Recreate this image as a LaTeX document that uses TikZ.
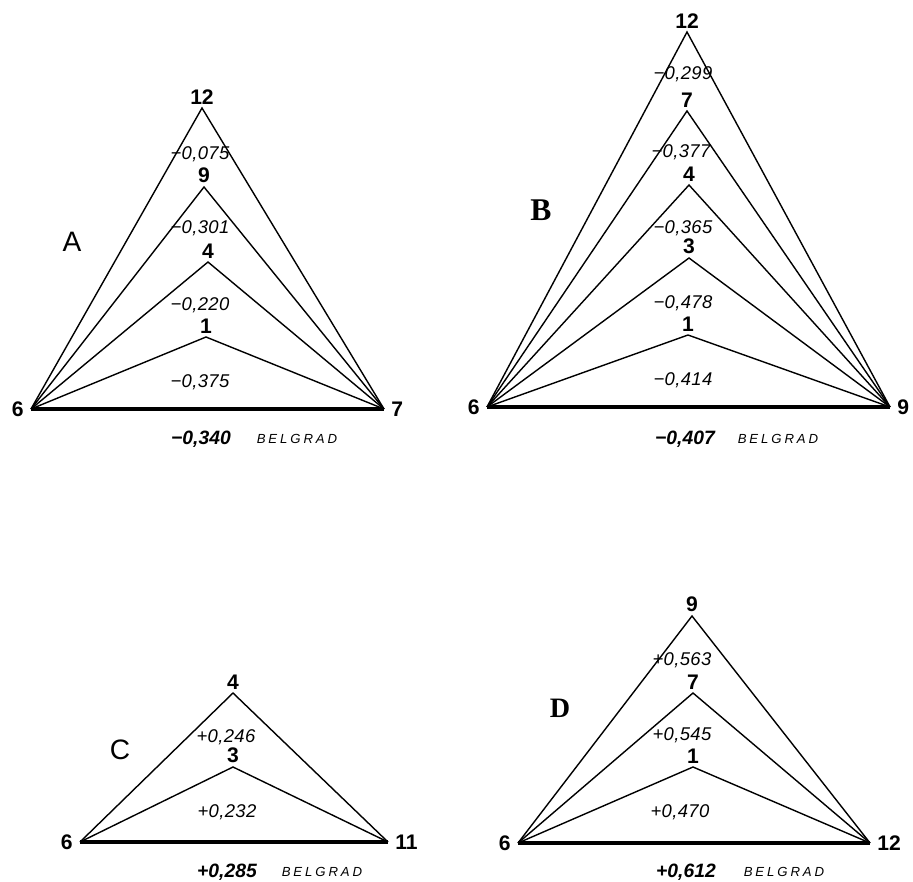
\documentclass[tikz,border=0pt]{standalone}
\usepackage{fontspec}
\setmainfont{Liberation Sans}
\newfontfamily\letterserif{Liberation Serif}
\usetikzlibrary{positioning}
\tikzset{edge/.style = {line width=0.8pt, line join=miter}}
\tikzset{base/.style = {line width=1.8pt}}
\tikzset{vnum/.style = {font=\fontsize{12}{12}\selectfont\bfseries, inner sep=2pt}}
\tikzset{side/.style = {vnum, inner sep=4pt}}
\tikzset{val/.style = {font=\fontsize{10.5}{10.5}\selectfont\itshape\addfontfeatures{LetterSpace=2}}}
\tikzset{total/.style = {font=\fontsize{11}{11}\selectfont\bfseries\itshape}}
\tikzset{city/.style = {font=\fontsize{7.5}{7.5}\selectfont\itshape\addfontfeatures{LetterSpace=22}}}
\tikzset{panel/.style = {font=\fontsize{16}{16}\selectfont}}
\tikzset{serifpanel/.style = {font=\fontsize{18}{18}\selectfont\letterserif\bfseries}}

\begin{document}
\begin{tikzpicture}[x=0.02cm, y=-0.02cm]
    \useasboundingbox (0,0) rectangle (913,882);

    % A
    \coordinate (a6) at (31,409);
    \coordinate (a7) at (384,409);
    \coordinate (a12) at (202,108);
    \coordinate (a9) at (204,187);
    \coordinate (a4) at (208,262);
    \coordinate (a1) at (206,337);
    \foreach \t in {a12,a9,a4,a1} \draw[edge] (a6) -- (\t) -- (a7);
    \draw[base] (a6) -- (a7);
    \foreach \t/\n in {a12/12,a9/9,a4/4,a1/1} \node[vnum,above] (l\t) at (\t) {\n};
    \node[side,left] (la6) at (a6) {6};
    \node[side,right] (la7) at (a7) {7};
    \node[val] (va1) at (200,154) {−0,075};
    \node[val] (va2) at (200,228) {−0,301};
    \node[val] (va3) at (200,305) {−0,220};
    \node[val] (va4) at (200,382) {−0,375};
    \node[panel] (pa) at (72,242) {A};
    \node[total] (ta) at (201,439) {−0,340};
    \node[city] (ca) at (297,439) {BELGRAD};

    % B
    \coordinate (b6) at (487,407);
    \coordinate (b9) at (890,407);
    \coordinate (b12) at (687,32);
    \coordinate (b7) at (687,111);
    \coordinate (b4) at (689,185);
    \coordinate (b3) at (689,258);
    \coordinate (b1) at (688,335);
    \foreach \t in {b12,b7,b4,b3,b1} \draw[edge] (b6) -- (\t) -- (b9);
    \draw[base] (b6) -- (b9);
    \foreach \t/\n in {b12/12,b7/7,b4/4,b3/3,b1/1} \node[vnum,above] (l\t) at (\t) {\n};
    \node[side,left] (lb6) at (b6) {6};
    \node[side,right] (lb9) at (b9) {9};
    \node[val] (vb1) at (683,74) {−0,299};
    \node[val] (vb2) at (681,152) {−0,377};
    \node[val] (vb3) at (683,228) {−0,365};
    \node[val] (vb4) at (683,303) {−0,478};
    \node[val] (vb5) at (683,380) {−0,414};
    \node[serifpanel] (pb) at (541,210) {B};
    \node[total] (tb) at (685,439) {−0,407};
    \node[city] (cb) at (778,439) {BELGRAD};

    % C
    \coordinate (c6) at (80,842);
    \coordinate (c11) at (388,842);
    \coordinate (c4) at (233,693);
    \coordinate (c3) at (233,767);
    \foreach \t in {c4,c3} \draw[edge] (c6) -- (\t) -- (c11);
    \draw[base] (c6) -- (c11);
    \foreach \t/\n in {c4/4,c3/3} \node[vnum,above] (l\t) at (\t) {\n};
    \node[side,left] (lc6) at (c6) {6};
    \node[side,right] (lc11) at (c11) {11};
    \node[val] (vc1) at (226,737) {+0,246};
    \node[val] (vc2) at (227,812) {+0,232};
    \node[panel] (pc) at (120,750) {C};
    \node[total] (tc) at (227,872) {+0,285};
    \node[city] (cc) at (322,872) {BELGRAD};

    % D
    \coordinate (d6) at (518,843);
    \coordinate (d12) at (870,843);
    \coordinate (d9) at (692,616);
    \coordinate (d7) at (693,693);
    \coordinate (d1) at (693,767);
    \foreach \t in {d9,d7,d1} \draw[edge] (d6) -- (\t) -- (d12);
    \draw[base] (d6) -- (d12);
    \foreach \t/\n in {d9/9,d7/7,d1/1} \node[vnum,above] (l\t) at (\t) {\n};
    \node[side,left] (ld6) at (d6) {6};
    \node[side,right] (ld12) at (d12) {12};
    \node[val] (vd1) at (682,660) {+0,563};
    \node[val] (vd2) at (682,735) {+0,545};
    \node[val] (vd3) at (680,812) {+0,470};
    \node[serifpanel,font=\fontsize{16}{16}\selectfont\letterserif\bfseries] (pd) at (560,708) {D};
    \node[total] (td) at (686,872) {+0,612};
    \node[city] (cd) at (784,872) {BELGRAD};
\end{tikzpicture}
\end{document}
